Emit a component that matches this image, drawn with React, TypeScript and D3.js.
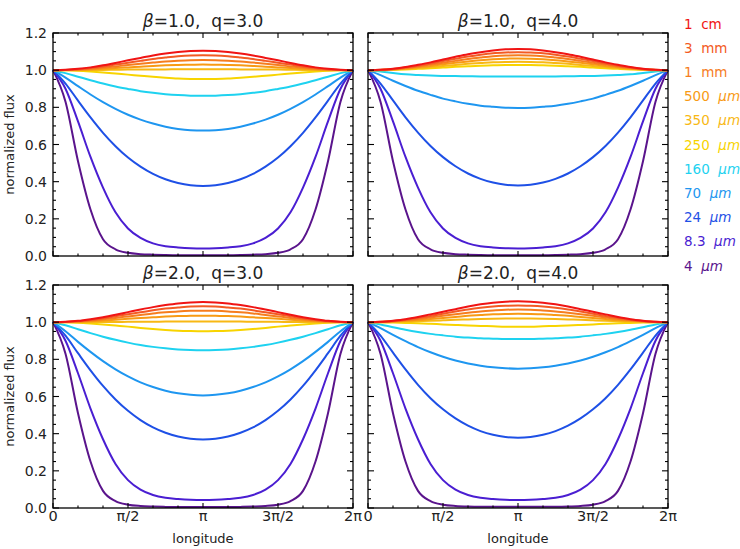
import React, { useEffect, useRef } from "react";
import * as d3 from "d3";

// longitude samples in degrees (0 .. 2π)
const longitudes = [0, 15, 30, 45, 60, 75, 90, 105, 120, 135, 150, 165, 180, 195, 210, 225, 240, 255, 270, 285, 300, 315, 330, 345, 360];

const wavelengths = ["1 cm", "3 mm", "1 mm", "500 μm", "350 μm", "250 μm", "160 μm", "70 μm", "24 μm", "8.3 μm", "4 μm"];
const lineColors = ["#f01414", "#f35a23", "#f67d1e", "#f89a14", "#f8b814", "#f8d400", "#1ed2f0", "#1e96f0", "#1e50e6", "#4a1ed2", "#5a148c"];

// normalized flux, one row per wavelength (same order as above)
const fluxB1Q3 = [
  [1, 1.002, 1.007, 1.015, 1.026, 1.039, 1.053, 1.066, 1.079, 1.090, 1.098, 1.103, 1.105, 1.103, 1.098, 1.090, 1.079, 1.066, 1.053, 1.039, 1.026, 1.015, 1.007, 1.002, 1],
  [1, 1.001, 1.005, 1.012, 1.020, 1.030, 1.040, 1.050, 1.060, 1.068, 1.075, 1.079, 1.080, 1.079, 1.075, 1.068, 1.060, 1.050, 1.040, 1.030, 1.020, 1.012, 1.005, 1.001, 1],
  [1, 1.001, 1.004, 1.008, 1.014, 1.020, 1.028, 1.035, 1.041, 1.047, 1.051, 1.054, 1.055, 1.054, 1.051, 1.047, 1.041, 1.035, 1.028, 1.020, 1.014, 1.008, 1.004, 1.001, 1],
  [1, 1.001, 1.002, 1.004, 1.008, 1.011, 1.015, 1.019, 1.023, 1.026, 1.028, 1.029, 1.030, 1.029, 1.028, 1.026, 1.023, 1.019, 1.015, 1.011, 1.008, 1.004, 1.002, 1.001, 1],
  [1, 1, 1, 1.001, 1.001, 1.002, 1.003, 1.003, 1.004, 1.004, 1.005, 1.005, 1.005, 1.005, 1.005, 1.004, 1.004, 1.003, 1.003, 1.002, 1.001, 1.001, 1, 1, 1],
  [1, 0.999, 0.997, 0.993, 0.988, 0.982, 0.976, 0.970, 0.964, 0.959, 0.955, 0.953, 0.952, 0.953, 0.955, 0.959, 0.964, 0.970, 0.976, 0.982, 0.988, 0.993, 0.997, 0.999, 1],
  [1, 0.984, 0.965, 0.946, 0.928, 0.912, 0.899, 0.887, 0.878, 0.871, 0.866, 0.863, 0.862, 0.863, 0.866, 0.871, 0.878, 0.887, 0.899, 0.912, 0.928, 0.946, 0.965, 0.984, 1],
  [1, 0.960, 0.914, 0.869, 0.828, 0.792, 0.760, 0.734, 0.713, 0.696, 0.684, 0.677, 0.675, 0.677, 0.684, 0.696, 0.713, 0.734, 0.760, 0.792, 0.828, 0.869, 0.914, 0.960, 1],
  [1, 0.928, 0.836, 0.746, 0.663, 0.591, 0.530, 0.481, 0.442, 0.413, 0.393, 0.381, 0.377, 0.381, 0.393, 0.413, 0.442, 0.481, 0.530, 0.591, 0.663, 0.746, 0.836, 0.928, 1],
  [1, 0.900, 0.724, 0.533, 0.368, 0.235, 0.148, 0.097, 0.068, 0.053, 0.046, 0.042, 0.041, 0.042, 0.046, 0.053, 0.068, 0.097, 0.148, 0.235, 0.368, 0.533, 0.724, 0.900, 1],
  [1, 0.830, 0.510, 0.250, 0.090, 0.036, 0.017, 0.010, 0.007, 0.005, 0.004, 0.004, 0.004, 0.004, 0.004, 0.005, 0.007, 0.010, 0.017, 0.036, 0.090, 0.250, 0.510, 0.830, 1],
];

const fluxB1Q4 = [
  [1, 1.002, 1.008, 1.017, 1.029, 1.042, 1.057, 1.072, 1.086, 1.097, 1.106, 1.112, 1.114, 1.112, 1.106, 1.097, 1.086, 1.072, 1.057, 1.042, 1.029, 1.017, 1.008, 1.002, 1],
  [1, 1.002, 1.006, 1.014, 1.024, 1.036, 1.049, 1.061, 1.073, 1.083, 1.091, 1.095, 1.097, 1.095, 1.091, 1.083, 1.073, 1.061, 1.049, 1.036, 1.024, 1.014, 1.006, 1.002, 1],
  [1, 1.001, 1.005, 1.012, 1.020, 1.030, 1.040, 1.050, 1.060, 1.068, 1.075, 1.079, 1.080, 1.079, 1.075, 1.068, 1.060, 1.050, 1.040, 1.030, 1.020, 1.012, 1.005, 1.001, 1],
  [1, 1.001, 1.004, 1.009, 1.016, 1.023, 1.032, 1.040, 1.047, 1.054, 1.059, 1.062, 1.063, 1.062, 1.059, 1.054, 1.047, 1.040, 1.032, 1.023, 1.016, 1.009, 1.004, 1.001, 1],
  [1, 1.001, 1.003, 1.007, 1.011, 1.017, 1.023, 1.028, 1.034, 1.038, 1.042, 1.044, 1.045, 1.044, 1.042, 1.038, 1.034, 1.028, 1.023, 1.017, 1.011, 1.007, 1.003, 1.001, 1],
  [1, 1.000, 1.002, 1.004, 1.007, 1.010, 1.014, 1.018, 1.021, 1.024, 1.026, 1.028, 1.028, 1.028, 1.026, 1.024, 1.021, 1.018, 1.014, 1.010, 1.007, 1.004, 1.002, 1.000, 1],
  [1, 0.993, 0.985, 0.978, 0.974, 0.971, 0.969, 0.968, 0.967, 0.966, 0.966, 0.966, 0.966, 0.966, 0.966, 0.966, 0.967, 0.968, 0.969, 0.971, 0.974, 0.978, 0.985, 0.993, 1],
  [1, 0.973, 0.943, 0.915, 0.889, 0.867, 0.847, 0.832, 0.819, 0.809, 0.803, 0.798, 0.797, 0.798, 0.803, 0.809, 0.819, 0.832, 0.847, 0.867, 0.889, 0.915, 0.943, 0.973, 1],
  [1, 0.928, 0.837, 0.746, 0.664, 0.592, 0.532, 0.483, 0.444, 0.415, 0.395, 0.383, 0.379, 0.383, 0.395, 0.415, 0.444, 0.483, 0.532, 0.592, 0.664, 0.746, 0.837, 0.928, 1],
  [1, 0.900, 0.724, 0.533, 0.368, 0.235, 0.148, 0.097, 0.068, 0.053, 0.046, 0.042, 0.041, 0.042, 0.046, 0.053, 0.068, 0.097, 0.148, 0.235, 0.368, 0.533, 0.724, 0.900, 1],
  [1, 0.830, 0.510, 0.250, 0.090, 0.036, 0.017, 0.010, 0.007, 0.005, 0.004, 0.004, 0.004, 0.004, 0.004, 0.005, 0.007, 0.010, 0.017, 0.036, 0.090, 0.250, 0.510, 0.830, 1],
];

const fluxB2Q3 = [
  [1, 1.002, 1.007, 1.016, 1.027, 1.040, 1.054, 1.068, 1.081, 1.092, 1.101, 1.106, 1.108, 1.106, 1.101, 1.092, 1.081, 1.068, 1.054, 1.040, 1.027, 1.016, 1.007, 1.002, 1],
  [1, 1.001, 1.006, 1.012, 1.021, 1.032, 1.043, 1.053, 1.064, 1.073, 1.079, 1.084, 1.085, 1.084, 1.079, 1.073, 1.064, 1.053, 1.043, 1.032, 1.021, 1.012, 1.006, 1.001, 1],
  [1, 1.001, 1.004, 1.009, 1.016, 1.023, 1.031, 1.039, 1.047, 1.053, 1.058, 1.061, 1.062, 1.061, 1.058, 1.053, 1.047, 1.039, 1.031, 1.023, 1.016, 1.009, 1.004, 1.001, 1],
  [1, 1.001, 1.002, 1.005, 1.009, 1.013, 1.018, 1.022, 1.026, 1.030, 1.033, 1.034, 1.035, 1.034, 1.033, 1.030, 1.026, 1.022, 1.018, 1.013, 1.009, 1.005, 1.002, 1.001, 1],
  [1, 1, 1, 1, 1.001, 1.001, 1.002, 1.002, 1.002, 1.003, 1.003, 1.003, 1.003, 1.003, 1.003, 1.003, 1.002, 1.002, 1.002, 1.001, 1.001, 1, 1, 1, 1],
  [1, 0.999, 0.997, 0.993, 0.988, 0.982, 0.976, 0.969, 0.963, 0.958, 0.954, 0.952, 0.951, 0.952, 0.954, 0.958, 0.963, 0.969, 0.976, 0.982, 0.988, 0.993, 0.997, 0.999, 1],
  [1, 0.983, 0.962, 0.941, 0.922, 0.905, 0.890, 0.877, 0.867, 0.859, 0.853, 0.850, 0.849, 0.850, 0.853, 0.859, 0.867, 0.877, 0.890, 0.905, 0.922, 0.941, 0.962, 0.983, 1],
  [1, 0.951, 0.894, 0.840, 0.790, 0.746, 0.708, 0.676, 0.651, 0.631, 0.617, 0.609, 0.606, 0.609, 0.617, 0.631, 0.651, 0.676, 0.708, 0.746, 0.790, 0.840, 0.894, 0.951, 1],
  [1, 0.927, 0.833, 0.741, 0.657, 0.584, 0.523, 0.473, 0.434, 0.405, 0.385, 0.373, 0.369, 0.373, 0.385, 0.405, 0.434, 0.473, 0.523, 0.584, 0.657, 0.741, 0.833, 0.927, 1],
  [1, 0.900, 0.725, 0.535, 0.370, 0.237, 0.150, 0.099, 0.070, 0.055, 0.048, 0.044, 0.043, 0.044, 0.048, 0.055, 0.070, 0.099, 0.150, 0.237, 0.370, 0.535, 0.725, 0.900, 1],
  [1, 0.830, 0.510, 0.250, 0.092, 0.037, 0.018, 0.011, 0.008, 0.006, 0.005, 0.005, 0.005, 0.005, 0.005, 0.006, 0.008, 0.011, 0.018, 0.037, 0.092, 0.250, 0.510, 0.830, 1],
];

const fluxB2Q4 = [
  [1, 1.002, 1.008, 1.016, 1.028, 1.042, 1.056, 1.070, 1.084, 1.096, 1.105, 1.110, 1.112, 1.110, 1.105, 1.096, 1.084, 1.070, 1.056, 1.042, 1.028, 1.016, 1.008, 1.002, 1],
  [1, 1.002, 1.006, 1.013, 1.023, 1.033, 1.045, 1.057, 1.068, 1.077, 1.084, 1.088, 1.090, 1.088, 1.084, 1.077, 1.068, 1.057, 1.045, 1.033, 1.023, 1.013, 1.006, 1.002, 1],
  [1, 1.001, 1.005, 1.010, 1.017, 1.025, 1.034, 1.043, 1.051, 1.058, 1.063, 1.067, 1.068, 1.067, 1.063, 1.058, 1.051, 1.043, 1.034, 1.025, 1.017, 1.010, 1.005, 1.001, 1],
  [1, 1.001, 1.003, 1.007, 1.011, 1.017, 1.023, 1.028, 1.034, 1.038, 1.042, 1.044, 1.045, 1.044, 1.042, 1.038, 1.034, 1.028, 1.023, 1.017, 1.011, 1.007, 1.003, 1.001, 1],
  [1, 1, 1.001, 1.003, 1.005, 1.007, 1.010, 1.013, 1.015, 1.017, 1.019, 1.020, 1.020, 1.020, 1.019, 1.017, 1.015, 1.013, 1.010, 1.007, 1.005, 1.003, 1.001, 1, 1],
  [1, 1, 0.998, 0.996, 0.994, 0.991, 0.988, 0.985, 0.982, 0.980, 0.978, 0.976, 0.976, 0.976, 0.978, 0.980, 0.982, 0.985, 0.988, 0.991, 0.994, 0.996, 0.998, 1, 1],
  [1, 0.988, 0.973, 0.959, 0.947, 0.937, 0.929, 0.922, 0.917, 0.913, 0.911, 0.909, 0.909, 0.909, 0.911, 0.913, 0.917, 0.922, 0.929, 0.937, 0.947, 0.959, 0.973, 0.988, 1],
  [1, 0.968, 0.932, 0.898, 0.866, 0.838, 0.814, 0.794, 0.778, 0.766, 0.757, 0.752, 0.750, 0.752, 0.757, 0.766, 0.778, 0.794, 0.814, 0.838, 0.866, 0.898, 0.932, 0.968, 1],
  [1, 0.928, 0.836, 0.746, 0.663, 0.591, 0.531, 0.482, 0.443, 0.414, 0.394, 0.382, 0.378, 0.382, 0.394, 0.414, 0.443, 0.482, 0.531, 0.591, 0.663, 0.746, 0.836, 0.928, 1],
  [1, 0.900, 0.725, 0.535, 0.370, 0.237, 0.150, 0.099, 0.070, 0.055, 0.048, 0.044, 0.043, 0.044, 0.048, 0.055, 0.070, 0.099, 0.150, 0.237, 0.370, 0.535, 0.725, 0.900, 1],
  [1, 0.830, 0.510, 0.250, 0.092, 0.037, 0.018, 0.011, 0.008, 0.007, 0.007, 0.007, 0.007, 0.007, 0.007, 0.007, 0.008, 0.011, 0.018, 0.037, 0.092, 0.250, 0.510, 0.830, 1],
];

const betaValues = ["1.0", "1.0", "2.0", "2.0"];
const qValues = ["3.0", "4.0", "3.0", "4.0"];
const panelFlux = [fluxB1Q3, fluxB1Q4, fluxB2Q3, fluxB2Q4];

const xTickValues = [0, 90, 180, 270, 360];
const xTickLabels = ["0", "π/2", "π", "3π/2", "2π"];
const yTickValues = [0, 0.2, 0.4, 0.6, 0.8, 1.0, 1.2];

const W = 740;
const H = 549;
const FONT = "DejaVu Sans, sans-serif";

const App: React.FC = () => {
  const svgRef = useRef<SVGSVGElement | null>(null);

  useEffect(() => {
    if (!svgRef.current) return;
    const svg = d3.select(svgRef.current);
    svg.selectAll("*").remove();

    const pw = 300;
    const ph = 223;
    const lefts = [53, 368];
    const tops = [33, 285];

    const x = d3.scaleLinear().domain([0, 360]).range([0, pw]);
    const y = d3.scaleLinear().domain([0, 1.2]).range([ph, 0]);

    const line = d3.line<number>()
      .x((_, i) => x(longitudes[i]))
      .y(d => y(d))
      .curve(d3.curveMonotoneX);

    panelFlux.forEach((rows, p) => {
      const col = p % 2;
      const row = Math.floor(p / 2);
      const g = svg.append("g")
        .attr("transform", `translate(${lefts[col]},${tops[row]})`);

      // curves: shortest wavelength first so the red one ends on top
      for (let i = rows.length - 1; i >= 0; i--) {
        g.append("path")
          .attr("d", line(rows[i]) as string)
          .attr("fill", "none")
          .attr("stroke", lineColors[i])
          .attr("stroke-width", 2)
          .attr("stroke-linejoin", "round");
      }

      // frame
      g.append("rect")
        .attr("width", pw)
        .attr("height", ph)
        .attr("fill", "none")
        .attr("stroke", "#000")
        .attr("stroke-width", 1.3);

      // inward ticks on all four sides
      const ticks = g.append("g").attr("stroke", "#000").attr("stroke-width", 1.1);
      d3.range(0, 361, 30).forEach(v => {
        const major = v % 90 === 0;
        const len = major ? 5 : 2.5;
        ticks.append("line").attr("x1", x(v)).attr("x2", x(v)).attr("y1", ph).attr("y2", ph - len);
        ticks.append("line").attr("x1", x(v)).attr("x2", x(v)).attr("y1", 0).attr("y2", len);
      });
      d3.range(0, 1.2001, 0.05).forEach((v, k) => {
        const major = k % 4 === 0;
        const len = major ? 6 : 3;
        ticks.append("line").attr("x1", 0).attr("x2", len).attr("y1", y(v)).attr("y2", y(v));
        ticks.append("line").attr("x1", pw).attr("x2", pw - len).attr("y1", y(v)).attr("y2", y(v));
      });

      // title
      const title = g.append("text")
        .attr("x", pw / 2)
        .attr("y", -6.5)
        .attr("text-anchor", "middle")
        .attr("font-family", FONT)
        .attr("font-size", 17)
        .attr("fill", "#222")
        .style("white-space", "pre");
      title.append("tspan").attr("font-style", "italic").text("β");
      title.append("tspan").text(`=${betaValues[p]},  q=${qValues[p]}`);

      if (col === 0) {
        yTickValues.forEach(v => {
          g.append("text")
            .attr("x", -6)
            .attr("y", y(v) + 5)
            .attr("text-anchor", "end")
            .attr("font-family", FONT)
            .attr("font-size", 14)
            .attr("fill", "#222")
            .text(v.toFixed(1));
        });
        g.append("text")
          .attr("transform", `translate(${-39},${ph / 2}) rotate(-90)`)
          .attr("text-anchor", "middle")
          .attr("font-family", FONT)
          .attr("font-size", 13)
          .attr("fill", "#222")
          .text("normalized flux");
      }

      if (row === 1) {
        xTickValues.forEach((v, i) => {
          g.append("text")
            .attr("x", x(v))
            .attr("y", ph + 13)
            .attr("text-anchor", "middle")
            .attr("font-family", FONT)
            .attr("font-size", 14.5)
            .attr("fill", "#222")
            .text(xTickLabels[i]);
        });
        g.append("text")
          .attr("x", pw / 2)
          .attr("y", ph + 35)
          .attr("text-anchor", "middle")
          .attr("font-family", FONT)
          .attr("font-size", 13)
          .attr("fill", "#222")
          .text("longitude");
      }
    });

    // wavelength legend
    wavelengths.forEach((label, i) => {
      const t = svg.append("text")
        .attr("x", 684)
        .attr("y", 28.5 + i * 24.2)
        .attr("font-family", FONT)
        .attr("font-size", 13.5)
        .attr("fill", lineColors[i])
        .style("white-space", "pre");
      const parts = label.split(" ");
      t.append("tspan").text(parts[0] + "  ");
      if (parts[1] === "μm") {
        t.append("tspan").attr("font-style", "italic").text("μm");
      } else {
        t.append("tspan").text(parts[1]);
      }
    });
  }, []);

  return (
    <svg
      ref={svgRef}
      width={W}
      height={H}
      style={{ position: "absolute", left: 0, top: 0, background: "#fff" }}
    />
  );
};

export default App;
